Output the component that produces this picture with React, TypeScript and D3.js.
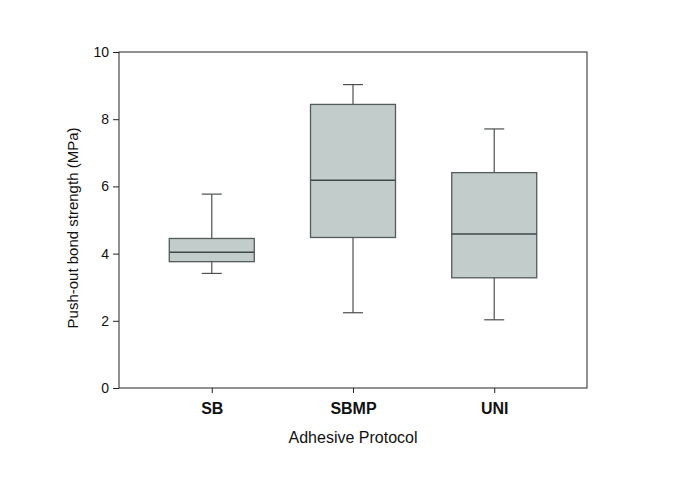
import React, { useEffect, useRef } from 'react';
import * as d3 from 'd3';

const categories = ['SB', 'SBMP', 'UNI'];
const lowerWhisker = [3.41, 2.24, 2.03];
const q1 = [3.76, 4.48, 3.28];
const medians = [4.04, 6.18, 4.58];
const q3 = [4.45, 8.44, 6.41];
const upperWhisker = [5.77, 9.03, 7.71];
const yTicks = [0, 2, 4, 6, 8, 10];

export default function App() {
    const svgRef = useRef<SVGSVGElement>(null);

    useEffect(() => {
        const svg = d3.select(svgRef.current);
        svg.selectAll('*').remove();

        const margin = { top: 52, right: 98, bottom: 93, left: 119 };
        const width = 685;
        const height = 481;
        const font = '"Liberation Sans", Arial, sans-serif';

        const x = d3.scaleLinear().domain([0.343, 3.657]).range([margin.left, width - margin.right]);
        const y = d3.scaleLinear().domain([0, 10]).range([height - margin.bottom, margin.top]);

        const boxW = 85;
        const capW = 20;

        const data = categories.map((c, i) => ({
            c, i: i + 1,
            lo: lowerWhisker[i], q1: q1[i], med: medians[i], q3: q3[i], hi: upperWhisker[i],
        }));

        const g = svg.append('g');
        const stroke = '#4a4f4f';

        // whiskers + boxes
        data.forEach(d => {
            const cx = x(d.i);
            g.append('line').attr('x1', cx).attr('x2', cx).attr('y1', y(d.q3)).attr('y2', y(d.hi))
                .attr('stroke', stroke).attr('stroke-width', 1.2);
            g.append('line').attr('x1', cx).attr('x2', cx).attr('y1', y(d.q1)).attr('y2', y(d.lo))
                .attr('stroke', stroke).attr('stroke-width', 1.2);
            g.append('line').attr('x1', cx - capW / 2).attr('x2', cx + capW / 2).attr('y1', y(d.hi)).attr('y2', y(d.hi))
                .attr('stroke', stroke).attr('stroke-width', 1.2);
            g.append('line').attr('x1', cx - capW / 2).attr('x2', cx + capW / 2).attr('y1', y(d.lo)).attr('y2', y(d.lo))
                .attr('stroke', stroke).attr('stroke-width', 1.2);
            g.append('rect').attr('x', cx - boxW / 2).attr('width', boxW)
                .attr('y', y(d.q3)).attr('height', y(d.q1) - y(d.q3))
                .attr('fill', '#c1cccb').attr('stroke', '#555b5b').attr('stroke-width', 1.3);
            g.append('line').attr('x1', cx - boxW / 2).attr('x2', cx + boxW / 2).attr('y1', y(d.med)).attr('y2', y(d.med))
                .attr('stroke', '#3f4848').attr('stroke-width', 1.5);
        });

        // frame
        svg.append('rect')
            .attr('x', margin.left).attr('y', margin.top)
            .attr('width', width - margin.left - margin.right)
            .attr('height', height - margin.top - margin.bottom)
            .attr('fill', 'none').attr('stroke', '#222').attr('stroke-width', 1);

        // Y axis
        const yAxis = svg.append('g')
            .attr('transform', `translate(${margin.left},0)`)
            .call(d3.axisLeft(y).tickValues(yTicks).tickSize(6).tickPadding(4).tickFormat(d3.format('d')));
        yAxis.select('.domain').remove();
        yAxis.selectAll('line').attr('stroke', '#222');
        yAxis.selectAll('text').style('font-family', font).style('font-size', '14px').attr('fill', '#111');

        // X axis
        const xAxis = svg.append('g')
            .attr('transform', `translate(0,${height - margin.bottom})`)
            .call(d3.axisBottom(x).tickValues([1, 2, 3]).tickSize(5).tickPadding(10)
                .tickFormat((d: any) => categories[d - 1]));
        xAxis.select('.domain').remove();
        xAxis.selectAll('line').attr('stroke', '#222');
        xAxis.selectAll('text').style('font-family', font).style('font-size', '16px')
            .style('font-weight', 'bold').attr('fill', '#111');

        svg.append('text')
            .attr('x', x(2)).attr('y', 443)
            .attr('text-anchor', 'middle')
            .style('font-family', font).style('font-size', '16px').attr('fill', '#111')
            .text('Adhesive Protocol');

        svg.append('text')
            .attr('transform', `translate(78,${(y(0) + y(10)) / 2 + 8}) rotate(-90)`)
            .attr('text-anchor', 'middle')
            .style('font-family', font).style('font-size', '15px').attr('fill', '#111')
            .text('Push-out bond strength (MPa)');
    }, []);

    return (
        <svg ref={svgRef} width={685} height={481}
            style={{ position: 'absolute', left: 0, top: 0, background: '#fff' }} />
    );
}
